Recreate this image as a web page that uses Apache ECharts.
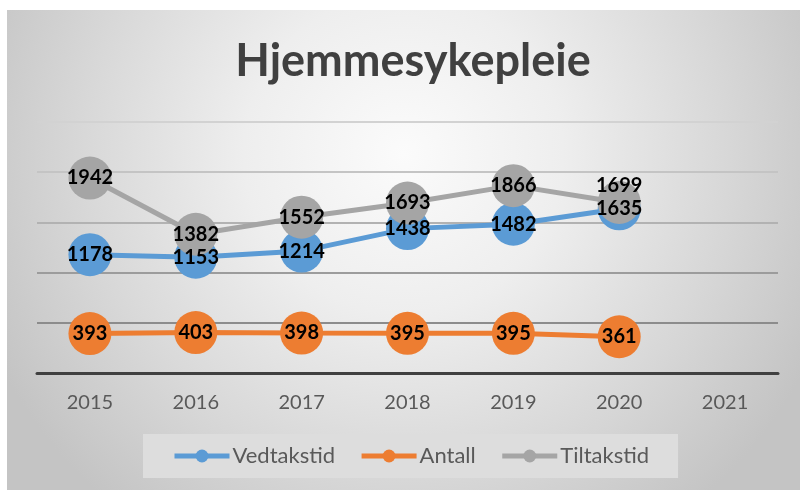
<!DOCTYPE html>
<html>
<head>
<meta charset="utf-8">
<script src="https://cdn.jsdelivr.net/npm/echarts@6/dist/echarts.min.js"></script>
<style>html,body{margin:0;padding:0;background:#fff;}#c{width:800px;height:490px;}</style>
</head>
<body>
<div id="c"></div>
<script>
var years = ['2015','2016','2017','2018','2019','2020','2021'];
var vedtakstid = [1178, 1153, 1214, 1438, 1482, 1635, null];
var antall = [393, 403, 398, 395, 395, 361, null];
var tiltakstid = [1942, 1382, 1552, 1693, 1866, 1699, null];
var seriesNames = ['Vedtakstid', 'Antall', 'Tiltakstid'];
var chartTitle = 'Hjemmesykepleie';

var FONT = 'Lato';
var chart = echarts.init(document.getElementById('c'), null, {renderer: 'canvas'});

function mkSeries(name, data, color, special) {
  return {
    name: name,
    type: 'line',
    data: data.map(function (v, i) {
      if (special && special[i] !== undefined) {
        return {value: v, label: {offset: [0, special[i]]}};
      }
      return v;
    }),
    symbol: 'circle',
    symbolSize: 43,
    lineStyle: {color: color, width: 5},
    itemStyle: {color: color},
    label: {
      show: true,
      position: 'inside',
      color: '#000',
      fontFamily: FONT,
      fontWeight: 'bold',
      fontSize: 20
    },
    emphasis: {disabled: true},
    animation: false
  };
}

chart.setOption({
  animation: false,
  graphic: [{
    type: 'rect',
    z: -10,
    silent: true,
    shape: {x: 7, y: 10, width: 793, height: 480},
    style: {
      fill: {
        type: 'radial', x: 0.5, y: 0.3, r: 0.95,
        colorStops: [
          {offset: 0, color: '#fbfbfb'},
          {offset: 0.35, color: '#eeeeee'},
          {offset: 0.7, color: '#d8d8d8'},
          {offset: 1, color: '#c4c4c4'}
        ]
      }
    }
  }],
  title: {
    text: chartTitle,
    left: 408,
    textAlign: 'center',
    top: 34,
    textStyle: {fontFamily: FONT, fontWeight: 'bold', fontSize: 45, color: '#404040'}
  },
  legend: {
    data: seriesNames,
    left: 143,
    top: 434,
    padding: [11, 29, 11, 29],
    backgroundColor: '#dddddd',
    itemWidth: 55,
    itemHeight: 16,
    itemGap: 24,
    lineStyle: {width: 5},
    textStyle: {fontFamily: FONT, fontSize: 22, color: '#595959', padding: [0, 0, 0, -2]}
  },
  grid: {left: 37, right: 22, top: 122, bottom: 117, containLabel: false},
  xAxis: {
    type: 'category',
    data: years,
    boundaryGap: true,
    axisLine: {lineStyle: {color: '#404040', width: 3}},
    axisTick: {show: false},
    axisLabel: {fontFamily: FONT, fontSize: 20, color: '#595959', margin: 20}
  },
  yAxis: {
    type: 'value',
    min: 0,
    max: 2500,
    interval: 500,
    axisLabel: {show: false},
    axisLine: {show: false},
    axisTick: {show: false},
    splitLine: {lineStyle: {width: 2, color: ['#888888', '#8c8c8c', '#9c9c9c', '#b2b2b2', '#c4c4c4', '#d2d2d2']}}
  },
  series: [
    mkSeries(seriesNames[0], vedtakstid, '#5b9bd5'),
    mkSeries(seriesNames[1], antall, '#ed7d31'),
    mkSeries(seriesNames[2], tiltakstid, '#a5a5a5', {5: -17})
  ]
});
</script>
</body>
</html>
